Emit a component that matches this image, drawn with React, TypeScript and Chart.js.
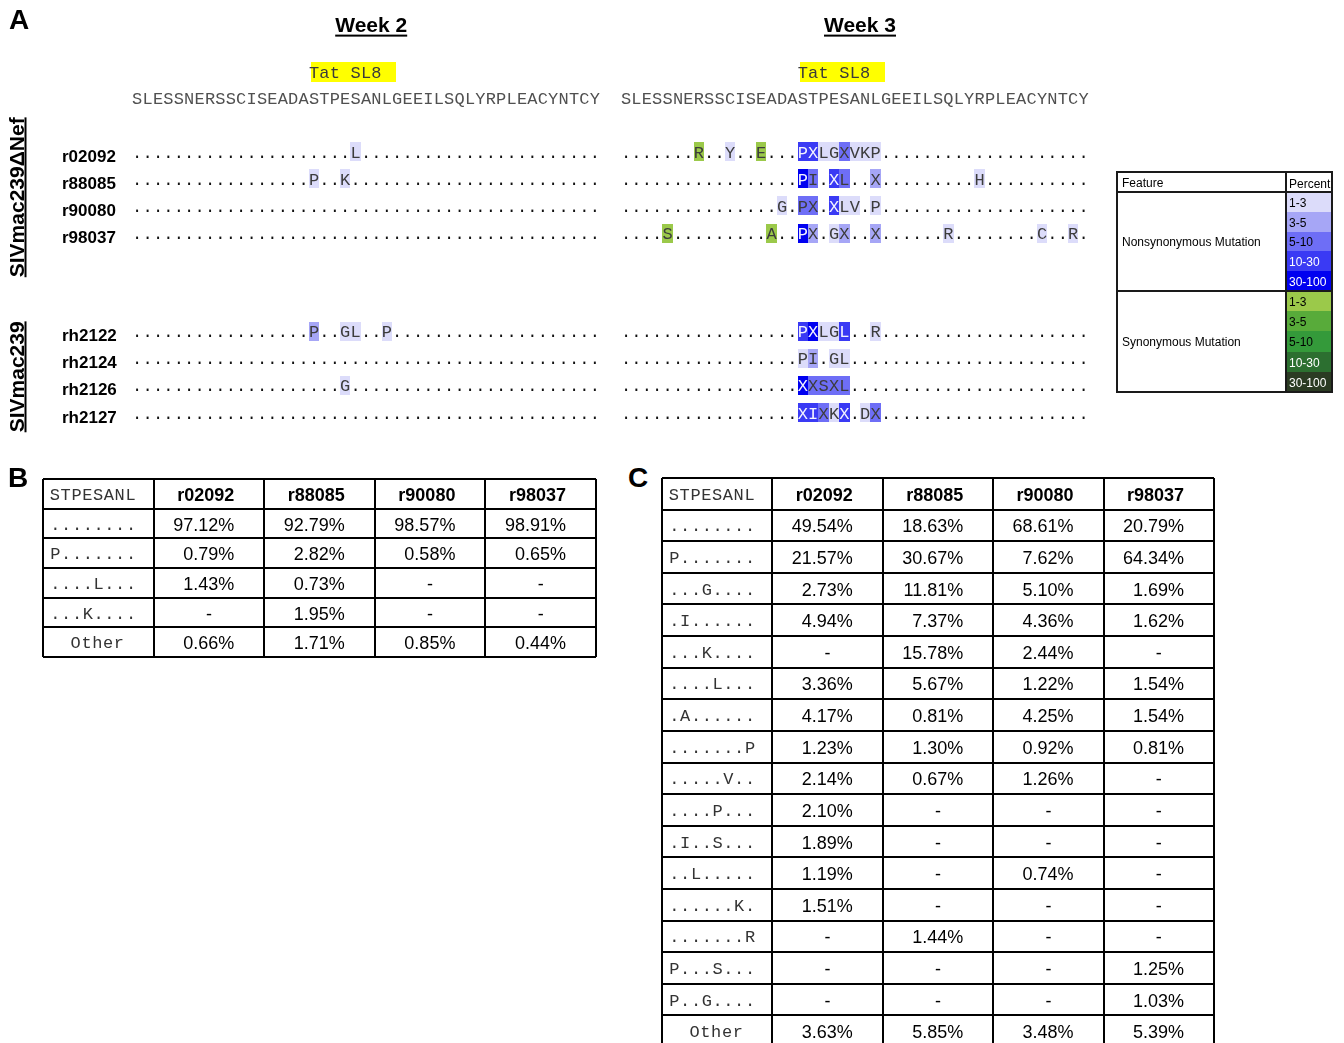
import React, { useEffect, useRef } from 'react';
import { Chart, registerables } from 'chart.js';

Chart.register(...registerables);

// ---------------- Panel A data ----------------
const REFERENCE_SEQUENCE = 'SLESSNERSSCISEADASTPESANLGEEILSQLYRPLEACYNTCY';
const EPITOPE_LABEL = 'Tat SL8';
const EPITOPE_FIRST = 17;
const EPITOPE_LAST = 24;
const WEEK_TITLES = ['Week 2', 'Week 3'];
const GROUP_TITLES = ['SIVmac239ΔNef', 'SIVmac239'];
const ANIMALS_DNEF = ['r02092', 'r88085', 'r90080', 'r98037'];
const ANIMALS_WT = ['rh2122', 'rh2124', 'rh2126', 'rh2127'];

// [position in sequence, residue shown, level]  n = nonsynonymous, s = synonymous, 1..5 = percent bin
type Mutation = [number, string, string];
const WEEK2_MUTATIONS: Mutation[][] = [
  [[21, 'L', 'n1']],
  [[17, 'P', 'n1'], [20, 'K', 'n1']],
  [],
  [],
  [[17, 'P', 'n2'], [20, 'G', 'n1'], [21, 'L', 'n1'], [24, 'P', 'n1']],
  [],
  [[20, 'G', 'n1']],
  [],
];
const WEEK3_MUTATIONS: Mutation[][] = [
  [[7, 'R', 's1'], [10, 'Y', 'n1'], [13, 'E', 's1'], [17, 'P', 'n4'], [18, 'X', 'n4'], [19, 'L', 'n1'], [20, 'G', 'n1'], [21, 'X', 'n3'], [22, 'V', 'n1'], [23, 'K', 'n1'], [24, 'P', 'n1']],
  [[17, 'P', 'n5'], [18, 'I', 'n3'], [20, 'X', 'n4'], [21, 'L', 'n3'], [24, 'X', 'n2'], [34, 'H', 'n1']],
  [[15, 'G', 'n1'], [17, 'P', 'n3'], [18, 'X', 'n3'], [20, 'X', 'n4'], [21, 'L', 'n1'], [22, 'V', 'n1'], [24, 'P', 'n1']],
  [[4, 'S', 's1'], [14, 'A', 's1'], [17, 'P', 'n5'], [18, 'X', 'n2'], [20, 'G', 'n1'], [21, 'X', 'n2'], [24, 'X', 'n2'], [31, 'R', 'n1'], [40, 'C', 'n1'], [43, 'R', 'n1']],
  [[17, 'P', 'n4'], [18, 'X', 'n5'], [19, 'L', 'n1'], [20, 'G', 'n1'], [21, 'L', 'n4'], [24, 'R', 'n1']],
  [[17, 'P', 'n1'], [18, 'I', 'n2'], [20, 'G', 'n1'], [21, 'L', 'n1']],
  [[17, 'X', 'n5'], [18, 'X', 'n3'], [19, 'S', 'n3'], [20, 'X', 'n3'], [21, 'L', 'n3']],
  [[17, 'X', 'n4'], [18, 'I', 'n4'], [19, 'X', 'n3'], [20, 'K', 'n1'], [21, 'X', 'n4'], [23, 'D', 'n1'], [24, 'X', 'n3']],
];

const LEVEL_LABELS = ['1-3', '3-5', '5-10', '10-30', '30-100'];
const NONSYN_COLORS = ['#dcdcfa', '#a6a6f6', '#6e6ef6', '#3a3af4', '#0000f0'];
const SYN_COLORS = ['#9bc94a', '#58ab3a', '#349a3a', '#2c6f30', '#2b3b23'];
const LEGEND_FEATURES = ['Nonsynonymous Mutation', 'Synonymous Mutation'];

// ---------------- Panels B / C data ----------------
const TABLE_HEADER = 'STPESANL';
const TABLE_ANIMALS = ['r02092', 'r88085', 'r90080', 'r98037'];

const WK2_VARIANTS = ['........', 'P.......', '....L...', '...K....', 'Other'];
const WK2_R02092 = [97.12, 0.79, 1.43, null, 0.66];
const WK2_R88085 = [92.79, 2.82, 0.73, 1.95, 1.71];
const WK2_R90080 = [98.57, 0.58, null, null, 0.85];
const WK2_R98037 = [98.91, 0.65, null, null, 0.44];

const WK3_VARIANTS = ['........', 'P.......', '...G....', '.I......', '...K....', '....L...', '.A......', '.......P', '.....V..', '....P...', '.I..S...', '..L.....', '......K.', '.......R', 'P...S...', 'P..G....', 'Other'];
const WK3_R02092 = [49.54, 21.57, 2.73, 4.94, null, 3.36, 4.17, 1.23, 2.14, 2.10, 1.89, 1.19, 1.51, null, null, null, 3.63];
const WK3_R88085 = [18.63, 30.67, 11.81, 7.37, 15.78, 5.67, 0.81, 1.30, 0.67, null, null, null, null, 1.44, null, null, 5.85];
const WK3_R90080 = [68.61, 7.62, 5.10, 4.36, 2.44, 1.22, 4.25, 0.92, 1.26, null, null, 0.74, null, null, null, null, 3.48];
const WK3_R98037 = [20.79, 64.34, 1.69, 1.62, null, 1.54, 1.54, 0.81, null, null, null, null, null, null, 1.25, 1.03, 5.39];

// ---------------- styling / layout ----------------
const SANS = '"Liberation Sans", Arial, sans-serif';
const MONO = '"Liberation Mono", "Courier New", monospace';
const WEEK_SLOT = 47; // residue slots from week-2 block start to week-3 block start
const GROUP2_ROW = 6.6; // y value of the first SIVmac239 row
const SEQ_ROW = -1.97;
const TAT_ROW = -2.92;
const TITLE_ROW = -4.61;

type Cell = { x: number; y: number; ch: string; level: string };

function rowY(k: number) {
  return k < 4 ? k : GROUP2_ROW + (k - 4);
}

function rowCells(muts: Mutation[], offset: number, y: number): Cell[] {
  const byPos: Record<number, Mutation> = {};
  muts.forEach((m) => { byPos[m[0]] = m; });
  return REFERENCE_SEQUENCE.split('').map((_, i) => {
    const m = byPos[i];
    return { x: offset + i, y, ch: m ? m[1] : '.', level: m ? m[2] : '' };
  });
}

function levelColor(level: string) {
  const i = Number(level.slice(1)) - 1;
  return level[0] === 's' ? SYN_COLORS[i] : NONSYN_COLORS[i];
}

function levelText(level: string) {
  const i = Number(level.slice(1));
  return i >= 4 ? '#f4f4ff' : '#3c3c3c';
}

const alignmentPainter = {
  id: 'alignmentPainter',
  afterDatasetsDraw(chart: any) {
    const ctx: CanvasRenderingContext2D = chart.ctx;
    const xs = chart.scales.x;
    const ys = chart.scales.y;
    const cw = xs.getPixelForValue(1) - xs.getPixelForValue(0);
    const chH = 19;
    ctx.save();

    // week titles + epitope boxes
    WEEK_TITLES.forEach((t, w) => {
      const off = w * WEEK_SLOT;
      const cx = xs.getPixelForValue(off + 22.5);
      const cy = ys.getPixelForValue(TITLE_ROW);
      ctx.font = `bold 21px ${SANS}`;
      ctx.fillStyle = '#000';
      ctx.textAlign = 'center';
      ctx.textBaseline = 'alphabetic';
      ctx.fillText(t, cx, cy + 6);
      const tw = ctx.measureText(t).width;
      ctx.fillRect(cx - tw / 2, cy + 8.5, tw, 2);

      const ty = ys.getPixelForValue(TAT_ROW);
      const bx0 = xs.getPixelForValue(off + EPITOPE_FIRST - 0.3);
      const bx1 = xs.getPixelForValue(off + EPITOPE_LAST + 0.85);
      ctx.fillStyle = '#ffff00';
      ctx.fillRect(Math.round(bx0), Math.round(ty - 10), Math.round(bx1 - bx0), 20);
      ctx.font = `17px ${MONO}`;
      ctx.fillStyle = '#3a3a3a';
      EPITOPE_LABEL.split('').forEach((c, k) => {
        ctx.fillText(c, xs.getPixelForValue(off + EPITOPE_FIRST + k), ty + 6);
      });
    });

    // highlight cells
    chart.data.datasets.forEach((ds: any, di: number) => {
      const meta = chart.getDatasetMeta(di);
      meta.data.forEach((el: any, i: number) => {
        const p: Cell = ds.data[i];
        if (!p.level) return;
        const l = Math.round(el.x - cw / 2);
        const r = Math.round(el.x + cw / 2);
        ctx.fillStyle = levelColor(p.level);
        ctx.fillRect(l, Math.round(el.y - chH / 2), r - l, chH);
      });
    });

    // residues / dots
    ctx.font = `17px ${MONO}`;
    ctx.textAlign = 'center';
    ctx.textBaseline = 'alphabetic';
    chart.data.datasets.forEach((ds: any, di: number) => {
      const meta = chart.getDatasetMeta(di);
      meta.data.forEach((el: any, i: number) => {
        const p: Cell = ds.data[i];
        if (ds.kind === 'ref') ctx.fillStyle = '#505050';
        else if (p.ch === '.') ctx.fillStyle = '#111';
        else ctx.fillStyle = p.level ? levelText(p.level) : '#3c3c3c';
        ctx.fillText(p.ch, el.x, el.y + 6);
      });
    });

    // row labels
    ctx.font = `bold 17px ${SANS}`;
    ctx.fillStyle = '#000';
    ctx.textAlign = 'left';
    [...ANIMALS_DNEF, ...ANIMALS_WT].forEach((name, k) => {
      ctx.fillText(name, 62, ys.getPixelForValue(rowY(k)) + 10);
    });

    // vertical group labels
    GROUP_TITLES.forEach((g, gi) => {
      const yc = ys.getPixelForValue((gi === 0 ? 0 : GROUP2_ROW) + 1.5) + 5;
      ctx.save();
      ctx.translate(0, yc);
      ctx.rotate(-Math.PI / 2);
      ctx.font = `bold 21px ${SANS}`;
      ctx.textAlign = 'center';
      ctx.fillStyle = '#000';
      ctx.fillText(g, 0, 23.5);
      const w = ctx.measureText(g).width;
      ctx.fillRect(-w / 2, 24.5, w, 2);
      ctx.restore();
    });

    // legend table
    const L = { left: 1117, right: 1332, top: 172, head: 192, mid: 291, bottom: 392, split: 1286 };
    const sw0 = L.split + 1;
    const sw1 = L.right - 1;
    [NONSYN_COLORS, SYN_COLORS].forEach((cols, s) => {
      const t0 = s === 0 ? L.head : L.mid;
      const t1 = s === 0 ? L.mid : L.bottom;
      const h = (t1 - t0) / cols.length;
      cols.forEach((c, i) => {
        const y0 = Math.round(t0 + i * h);
        const y1 = Math.round(t0 + (i + 1) * h);
        ctx.fillStyle = c;
        ctx.fillRect(sw0, y0, sw1 - sw0, y1 - y0);
        ctx.font = `12px ${SANS}`;
        ctx.textAlign = 'left';
        ctx.fillStyle = i >= 3 ? '#fff' : '#000';
        ctx.fillText(LEVEL_LABELS[i], L.split + 3, (y0 + y1) / 2 + 4.5);
      });
      ctx.fillStyle = '#000';
      ctx.fillText(LEGEND_FEATURES[s], L.left + 5, (t0 + t1) / 2 + 4.5);
    });
    ctx.fillStyle = '#000';
    ctx.font = `12px ${SANS}`;
    ctx.fillText('Feature', L.left + 5, L.top + 15);
    ctx.fillText('Percent', L.split + 3, L.top + 16);
    ctx.strokeStyle = '#1a1a1a';
    ctx.lineWidth = 2;
    ctx.strokeRect(L.left, L.top, L.right - L.left, L.bottom - L.top);
    ctx.beginPath();
    ctx.moveTo(L.split, L.top); ctx.lineTo(L.split, L.bottom);
    ctx.moveTo(L.left, L.head); ctx.lineTo(L.right, L.head);
    ctx.moveTo(L.left, L.mid); ctx.lineTo(L.right, L.mid);
    ctx.stroke();

    ctx.restore();
  },
};

function AlignmentPanel() {
  const ref = useRef<HTMLCanvasElement>(null);
  useEffect(() => {
    const datasets: any[] = [];
    [WEEK2_MUTATIONS, WEEK3_MUTATIONS].forEach((week, w) => {
      const off = w * WEEK_SLOT;
      datasets.push({
        kind: 'ref',
        data: REFERENCE_SEQUENCE.split('').map((c, i) => ({ x: off + i, y: SEQ_ROW, ch: c, level: '' })),
      });
      week.forEach((muts, k) => {
        datasets.push({ kind: 'row', data: rowCells(muts, off, rowY(k)) });
      });
    });
    datasets.forEach((d) => {
      d.pointRadius = 0;
      d.pointHoverRadius = 0;
      d.pointHitRadius = 0;
      d.showLine = false;
    });
    const chart = new Chart(ref.current as HTMLCanvasElement, {
      type: 'scatter',
      data: { datasets },
      options: {
        responsive: false,
        animation: false,
        events: [],
        layout: { autoPadding: false, padding: { left: 132, right: 255.2, top: 137.9, bottom: 13.78 } },
        plugins: { legend: { display: false }, tooltip: { enabled: false }, title: { display: false } },
        scales: {
          x: { type: 'linear', min: -0.5, max: 2 * WEEK_SLOT - 2.5, display: false },
          y: { type: 'linear', min: -0.5, max: GROUP2_ROW + 3.5, reverse: true, display: false },
        },
      } as any,
      plugins: [alignmentPainter],
    });
    return () => chart.destroy();
  }, []);
  return (
    <canvas ref={ref} width={1344} height={440}
      style={{ position: 'absolute', left: 0, top: 0, width: 1344, height: 440 }} />
  );
}

function drawMono(ctx: CanvasRenderingContext2D, text: string, left: number, baseline: number, pitch: number) {
  ctx.textAlign = 'center';
  text.split('').forEach((c, k) => ctx.fillText(c, left + pitch * (k + 0.5), baseline));
}

function TableChart(props: {
  left: number; top: number; width: number; height: number;
  variants: string[]; columns: (number | null)[][];
}) {
  const ref = useRef<HTMLCanvasElement>(null);
  const { left, top, width, height, variants, columns } = props;
  useEffect(() => {
    const colLabels = [TABLE_HEADER, ...TABLE_ANIMALS];
    const rowLabels = ['header', ...variants];
    const painter = {
      id: 'tablePainter',
      afterDraw(chart: any) {
        const ctx: CanvasRenderingContext2D = chart.ctx;
        const xs = chart.scales.x;
        const ys = chart.scales.y;
        const colW = Math.abs(xs.getPixelForValue(1) - xs.getPixelForValue(0));
        ctx.save();
        ctx.textBaseline = 'alphabetic';
        rowLabels.forEach((_, r) => {
          const cy = ys.getPixelForValue(r);
          const x0 = xs.getPixelForValue(0);
          const cellL = x0 - colW / 2;
          // first column
          ctx.fillStyle = '#333';
          ctx.font = `17px ${MONO}`;
          if (r === 0) {
            drawMono(ctx, TABLE_HEADER, cellL + 6.5, cy + 6, 10.8);
          } else if (variants[r - 1] === 'Other') {
            drawMono(ctx, 'Other', x0 - 1 - 2.5 * 10.8, cy + 6, 10.8);
          } else {
            drawMono(ctx, variants[r - 1], cellL + 7, cy + 6, 10.8);
          }
          // value columns
          TABLE_ANIMALS.forEach((name, c) => {
            const cx = xs.getPixelForValue(c + 1);
            const right = cx + colW / 2 - 30;
            ctx.fillStyle = '#000';
            if (r === 0) {
              ctx.font = `bold 18px ${SANS}`;
              ctx.textAlign = 'right';
              ctx.fillText(name, right, cy + 7);
              return;
            }
            const v = columns[c][r - 1];
            ctx.font = `18px ${SANS}`;
            if (v === null || v === undefined) {
              ctx.textAlign = 'center';
              ctx.fillText('-', cx, cy + 7);
            } else {
              ctx.textAlign = 'right';
              ctx.fillText(`${v.toFixed(2)}%`, right, cy + 7);
            }
          });
        });
        ctx.restore();
      },
    };
    const axis = (labels: string[]) => ({
      type: 'category',
      labels,
      offset: true,
      min: labels[0],
      max: labels[labels.length - 1],
      grid: { offset: true, color: '#000', lineWidth: 2, drawTicks: false },
      border: { display: false },
      ticks: { display: false, autoSkip: false },
    });
    const chart = new Chart(ref.current as HTMLCanvasElement, {
      type: 'scatter',
      data: { datasets: [] },
      options: {
        responsive: false,
        animation: false,
        events: [],
        layout: { autoPadding: false, padding: 2 },
        plugins: { legend: { display: false }, tooltip: { enabled: false }, title: { display: false } },
        scales: { x: axis(colLabels), y: axis(rowLabels) },
      } as any,
      plugins: [painter],
    });
    return () => chart.destroy();
  }, []);
  return (
    <canvas ref={ref} width={width} height={height}
      style={{ position: 'absolute', left, top, width, height }} />
  );
}

const panelLetter: React.CSSProperties = {
  position: 'absolute',
  font: `bold 28px ${SANS}`,
  lineHeight: '28px',
  margin: 0,
  color: '#000',
};

export default function App() {
  return (
    <div style={{ position: 'fixed', left: 0, top: 0, width: 1344, height: 1043, overflow: 'hidden', background: '#fff' }}>
      <AlignmentPanel />
      <div style={{ ...panelLetter, left: 9, top: 6 }}>A</div>
      <div style={{ ...panelLetter, left: 8, top: 464 }}>B</div>
      <div style={{ ...panelLetter, left: 628, top: 464 }}>C</div>
      <TableChart left={41} top={477} width={557} height={182}
        variants={WK2_VARIANTS} columns={[WK2_R02092, WK2_R88085, WK2_R90080, WK2_R98037]} />
      <TableChart left={660} top={476} width={556} height={573}
        variants={WK3_VARIANTS} columns={[WK3_R02092, WK3_R88085, WK3_R90080, WK3_R98037]} />
    </div>
  );
}
